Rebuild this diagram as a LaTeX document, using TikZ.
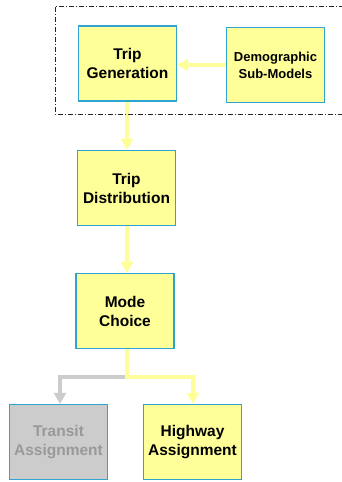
\documentclass[tikz,border=0pt]{standalone}
\usepackage{fontspec}
\setmainfont{Liberation Sans}
\usetikzlibrary{arrows.meta}
\definecolor{boxyellow}{HTML}{FFFF99}
\definecolor{boxedge}{HTML}{2FA4D0}
\definecolor{linkyellow}{HTML}{FFFF99}
\definecolor{boxgray}{HTML}{CCCCCC}
\definecolor{textgray}{HTML}{999999}
\tikzset{
  stage/.style={draw=boxedge, line width=1.2pt, fill=boxyellow, minimum width=98pt, minimum height=75pt,
    align=center, inner sep=0pt, font=\bfseries\fontsize{15.5}{19}\selectfont},
  smallstage/.style={stage, font=\bfseries\fontsize{13}{17}\selectfont},
  grayed/.style={fill=boxgray, text=textgray},
  link/.style={draw=linkyellow, line width=4pt, -{Triangle[width=12pt,length=11pt]}},
  graylink/.style={link, draw=boxgray},
  frame/.style={draw=black!85, line width=0.8pt, dash pattern=on 5pt off 2pt on 1pt off 2pt}
}
\begin{document}
\begin{tikzpicture}[x=1pt,y=1pt]
\useasboundingbox (0,0) rectangle (342,-482);
\node[stage] (tg) at (127.5,-63.5) {Trip\\Generation};
\node[smallstage] (dm) at (275.5,-65) {Demographic\\Sub-Models};
\node[stage] (td) at (126.5,-188) {Trip\\Distribution};
\node[stage] (mc) at (125,-311) {Mode\\Choice};
\node[stage, grayed] (ta) at (58.5,-442) {Transit\\Assignment};
\node[stage] (ha) at (192.5,-442) {Highway\\Assignment};
\coordinate (br) at (127,-377);
\draw[link] (dm.west |- 0,-65) -- (tg.east |- 0,-65);
\draw[link] (tg.south -| 127,0) -- (td.north -| 127,0);
\draw[link] (td.south -| 127,0) -- (mc.north -| 127,0);
\draw[graylink] (br) -| (ta.north -| 60,0);
\draw[link, -] (mc.south -| 127,0) -- (br);
\draw[link] ([xshift=-2pt]br) -| (ha.north -| 193,0);
\draw[frame] (344,-6) -- (55,-6) -- (55,-114) -- (344,-114);
\end{tikzpicture}
\end{document}
